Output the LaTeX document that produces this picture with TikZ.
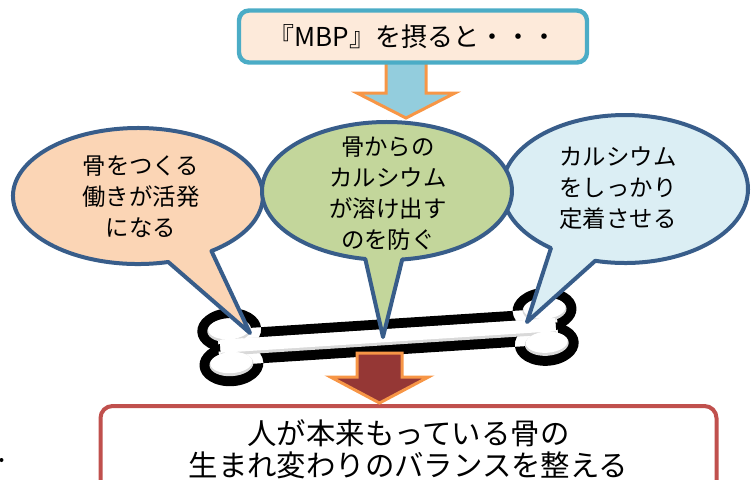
\documentclass[tikz,border=0pt]{standalone}
\usepackage{fontspec}
\setmainfont{Noto Sans CJK JP}
\usepackage{tikz}

\definecolor{bubbleline}{HTML}{385D8A}
\definecolor{topline}{HTML}{4BACC6}
\definecolor{topfill}{HTML}{FDEADA}
\definecolor{peach}{HTML}{FBD5B5}
\definecolor{leaf}{HTML}{C3D69B}
\definecolor{sky}{HTML}{DBEEF4}
\definecolor{arrowblue}{HTML}{93CDDD}
\definecolor{arroworange}{HTML}{F79646}
\definecolor{arrowred}{HTML}{953735}
\definecolor{resline}{HTML}{C0504D}
\definecolor{boneshade}{HTML}{D9D9D9}

\tikzstyle{bubble} = [draw=bubbleline, line width=2pt, line join=round]
\tikzstyle{bubbletext} = [align=center, font=\fontsize{11.7}{15.5}\selectfont]
\tikzstyle{topbox} = [rectangle, rounded corners=5pt, draw=topline, line width=2.2pt, fill=topfill, minimum width=174pt, minimum height=26pt, font=\fontsize{13}{16}\selectfont]
\tikzstyle{resultbox} = [rectangle, rounded corners=6pt, draw=resline, line width=2pt, fill=white, text width=290pt, inner xsep=9pt, inner ysep=7pt, align=center, font=\fontsize{14.7}{16}\selectfont]
\tikzstyle{blockarrow} = [draw=arroworange, line width=1.5pt, line join=miter]

\begin{document}
\begin{tikzpicture}[x=0.5pt, y=-0.5pt]
\useasboundingbox (0,0) rectangle (752,479);
\clip (0,0) rectangle (752,479);

% bone: black outline, grey shade, white inside
\begin{scope}[shift={(388,337)}, rotate=3.7]
  \fill[black] (-158,-17) ellipse[x radius=16pt, y radius=11pt]
               (-158,17) ellipse[x radius=16pt, y radius=11pt]
               (158,-17) ellipse[x radius=16pt, y radius=11pt]
               (158,17) ellipse[x radius=16pt, y radius=11pt]
               (-170,18) rectangle (170,-18);
  \fill[boneshade] (-158,-17) ellipse[x radius=11pt, y radius=6pt]
               (-158,17) ellipse[x radius=11pt, y radius=6pt]
               (158,-17) ellipse[x radius=11pt, y radius=6pt]
               (158,17) ellipse[x radius=11pt, y radius=6pt]
               (-168,8) rectangle (168,-8);
  \fill[white] (-158,-18.5) ellipse[x radius=10.5pt, y radius=5.25pt]
               (-158,15.5) ellipse[x radius=10.5pt, y radius=5.25pt]
               (158,-18.5) ellipse[x radius=10.5pt, y radius=5.25pt]
               (158,15.5) ellipse[x radius=10.5pt, y radius=5.25pt]
               (-168,5) rectangle (168,-8);
\end{scope}

% where the callouts point
\coordinate (tipL) at (250,333);
\coordinate (tipM) at (383,337);
\coordinate (tipR) at (527,322);

% callouts
\filldraw[bubble, fill=peach] ([shift={(138,196)}]76:125 and 68)
  arc[start angle=76, end angle=414, x radius=125, y radius=68] -- (tipL) -- cycle;
\filldraw[bubble, fill=sky] ([shift={(625,189)}]127:123 and 74)
  arc[start angle=127, end angle=464, x radius=123, y radius=74] -- (tipR) -- cycle;
\filldraw[bubble, fill=leaf] ([shift={(387,191)}]100:125 and 69)
  arc[start angle=100, end angle=443, x radius=125, y radius=69] -- (tipM) -- cycle;

\node (build) [bubbletext] at (141,197) {骨をつくる\\働きが活発\\になる};
\node (keep) [bubbletext] at (388,193.5) {骨からの\\カルシウム\\が溶け出す\\のを防ぐ};
\node (fix) [bubbletext] at (618,188) {カルシウム\\をしっかり\\定着させる};

% top: taking MBP
\coordinate (topA) at (406,62);
\filldraw[blockarrow, fill=arrowblue, shift={(topA)}] (-20,0) -- (20,0) -- (20,31)
  -- (49,31) -- (0,56) -- (-49,31) -- (-20,31) -- cycle;
\node (mbp) [topbox] at (413,36.5) {『MBP』を摂ると・・・};

% bottom: the result
\node (result) [resultbox, anchor=north] at (408.5,404) {人が本来もっている骨の\\生まれ変わりのバランスを整える};
\coordinate (botA) at (379.5,353);
\filldraw[blockarrow, fill=arrowred, shift={(botA)}] (-22.5,0) -- (22.5,0) -- (22.5,24)
  -- (49,24) -- (0,50) -- (-49,24) -- (-22.5,24) -- cycle;

\fill (1.5,460) circle[radius=1pt];
\end{tikzpicture}
\end{document}
